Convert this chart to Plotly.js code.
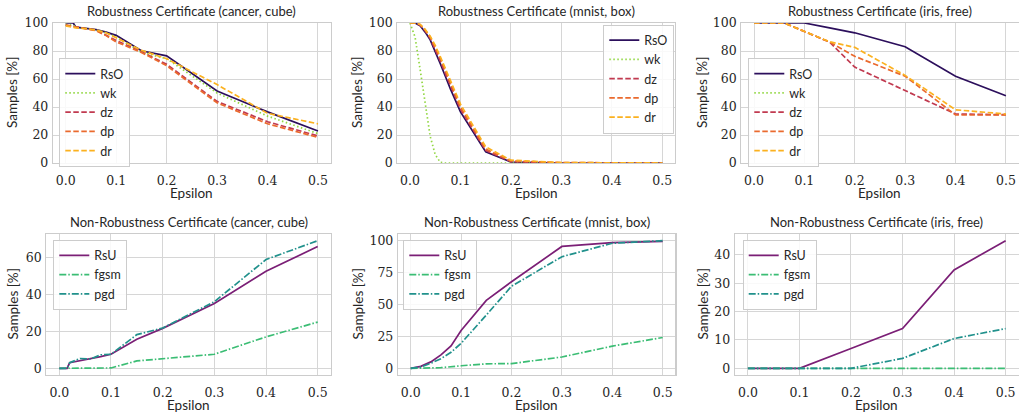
<!DOCTYPE html>
<html>
<head>
<meta charset="utf-8">
<script src="https://cdn.plot.ly/plotly-3.0.1.min.js"></script>
<style>html,body{margin:0;padding:0;background:#fff}#chart{width:1019px;height:415px}</style>
</head>
<body>
<div id="chart"></div>
<script>
// ---------------- data ----------------
const cancerX = [0, 0.015, 0.02, 0.04, 0.06, 0.08, 0.1, 0.15, 0.2, 0.3, 0.4, 0.5];
const cancerRsO = [100, 100, 97, 96, 95.3, 93.5, 91.2, 80.2, 76.5, 51.4, 36.5, 22.8];
const cancerWk  = [99, 98.5, 97, 96, 95, 93, 90, 79, 74.5, 50, 33.5, 21];
const cancerDz  = [98.5, 97.5, 97, 96, 95, 91.5, 87.5, 79.5, 70.5, 44, 29.5, 19.3];
const cancerDp  = [98.5, 97.5, 97, 96, 94.5, 91, 86.5, 79, 69.5, 43, 28, 18.3];
const cancerDr  = [98, 97, 96.5, 96, 95, 93, 89.5, 80.5, 74.5, 56, 35.5, 28];

const mnistX = [0, 0.01, 0.02, 0.03, 0.04, 0.05, 0.06, 0.07, 0.08, 0.1, 0.15, 0.2, 0.3, 0.4, 0.5];
const mnistRsO = [100, 100, 98, 93.5, 88, 80, 71, 62, 53, 36.5, 8, 0.7, 0, 0, 0];
const mnistWk  = [100, 90, 67, 42, 19, 6, 0.5, 0, 0, 0, 0, 0, 0, 0, 0];
const mnistDz  = [100, 100, 98.5, 94.5, 89, 81.5, 73, 64, 55.5, 38.5, 9, 1, 0, 0, 0];
const mnistDp  = [100, 100, 99, 95, 90, 83, 75, 66, 57, 40, 10, 1.5, 0.3, 0, 0];
const mnistDr  = [100, 100, 99, 95.5, 90.5, 84, 76, 67.5, 59, 42, 11.5, 2, 0.3, 0, 0];

const irisX = [0, 0.02, 0.04, 0.06, 0.08, 0.1, 0.15, 0.2, 0.3, 0.4, 0.5];
const irisRsO = [100, 100, 100, 100, 100, 100, 96.5, 93, 83, 62, 48];
const irisWk  = [null, null, null, null, null, null, null, null, null, null, null];
const irisDz  = [100, 100, 100, 100, 97, 94, 86.4, 68.5, 51.7, 35, 34.5];
const irisDp  = [100, 100, 100, 100, 97, 94, 86.4, 76.2, 62, 34.3, 34.3];
const irisDr  = [100, 100, 100, 100, 97, 94, 86.6, 82.6, 62.6, 38, 35];

const cancerX2 = [0, 0.015, 0.02, 0.04, 0.06, 0.08, 0.1, 0.15, 0.2, 0.3, 0.4, 0.5];
const cancerRsU  = [0, 0, 3, 4, 5.2, 6.3, 7.6, 15.7, 21.6, 35, 52.5, 65.8];
const cancerFgsm = [0, 0, 0, 0, 0, 0, 0.2, 4, 5.3, 7.6, 17, 25];
const cancerPgd  = [0, 0, 3, 5.3, 5, 7.3, 7.6, 18.2, 21.8, 36, 58.8, 69];

const mnistX2 = [0, 0.01, 0.02, 0.04, 0.06, 0.08, 0.1, 0.15, 0.2, 0.3, 0.4, 0.5];
const mnistRsU  = [0.5, 1, 2, 5.5, 11, 18, 30, 53.5, 68, 95.5, 98.5, 99.5];
const mnistFgsm = [0.5, 0.7, 0.8, 0.8, 1, 1.5, 2.5, 4, 4.2, 9.3, 17.8, 24.5];
const mnistPgd  = [0.5, 1, 1.5, 4.5, 8, 13, 20, 42, 64.5, 87.5, 98, 100];

const irisX2 = [0, 0.1, 0.2, 0.3, 0.4, 0.5];
const irisRsU  = [0, 0, 7, 14, 34.7, 45];
const irisFgsm = [0, 0, 0, 0, 0, 0];
const irisPgd  = [0, 0, 0, 3.5, 10.5, 14];

const topTitles = ['Robustness Certificate (cancer, cube)', 'Robustness Certificate (mnist, box)', 'Robustness Certificate (iris, free)'];
const botTitles = ['Non-Robustness Certificate (cancer, cube)', 'Non-Robustness Certificate (mnist, box)', 'Non-Robustness Certificate (iris, free)'];
const topNames = ['RsO', 'wk', 'dz', 'dp', 'dr'];
const botNames = ['RsU', 'fgsm', 'pgd'];
const xTicks = [0, 0.1, 0.2, 0.3, 0.4, 0.5];

// ---------------- styles ----------------
const W = 1019, H = 415;
const topStyles = [
  {color: '#2c0f5c', dash: 'solid'},
  {color: '#92d742', dash: '1.5px,2.5px'},
  {color: '#c13a50', dash: '5.5px,2.5px'},
  {color: '#ea6a2e', dash: '5.5px,2.5px'},
  {color: '#fbb11f', dash: '5.5px,2.5px'}
];
const botStyles = [
  {color: '#7b1f76', dash: 'solid'},
  {color: '#3bbd74', dash: '7px,2px,1.5px,2px'},
  {color: '#21918c', dash: '7px,2px,1.5px,2px'}
];

const topSeries = [
  {x: cancerX, ys: [cancerRsO, cancerWk, cancerDz, cancerDp, cancerDr]},
  {x: mnistX, ys: [mnistRsO, mnistWk, mnistDz, mnistDp, mnistDr]},
  {x: irisX, ys: [irisRsO, irisWk, irisDz, irisDp, irisDr]}
];
const botSeries = [
  {x: cancerX2, ys: [cancerRsU, cancerFgsm, cancerPgd]},
  {x: mnistX2, ys: [mnistRsU, mnistFgsm, mnistPgd]},
  {x: irisX2, ys: [irisRsU, irisFgsm, irisPgd]}
];

// frame pixel boxes [left, right]
const topXpx = [[53.1, 330.6], [397.4, 674.9], [741.4, 1018.5]];
const botXpx = [[46.4, 330.6], [398.1, 675.3], [735.0, 1018.5]];
const topYpx = [23, 163];
const botYpx = [234.3, 374.7];
const topLegPx = [[59.3, 58], [603.3, 24.5], [748.3, 58]];
const botLegPx = [[53.3, 239.7], [403.3, 239.7], [742.7, 239.7]];
const ylabX = [12, 357, 702];
const botYTicks = [[0, 20, 40, 60], [0, 25, 50, 75, 100], [0, 10, 20, 30, 40]];

const serif = 'DejaVu Serif';
const sans = 'Lato';
const txt = '#262626';

const traces = [];
const layout = {
  width: W, height: H,
  margin: {l: 0, r: 0, t: 0, b: 0},
  paper_bgcolor: '#ffffff', plot_bgcolor: '#ffffff',
  font: {family: sans, size: 12, color: txt},
  showlegend: true,
  annotations: []
};

function axisBase(dom) {
  return {
    domain: dom,
    showline: true, linecolor: '#cccccc', linewidth: 1.3, mirror: true,
    showgrid: true, gridcolor: '#d6d6d6', gridwidth: 1,
    zeroline: false,
    tickfont: {family: serif, size: 12.5, color: txt}
  };
}

function padRange(arrs) {
  let mn = Infinity, mx = -Infinity;
  arrs.forEach(a => a.forEach(v => { if (v !== null) { mn = Math.min(mn, v); mx = Math.max(mx, v); } }));
  const p = 0.05 * (mx - mn);
  return [mn - p, mx + p];
}

function addPanel(idx, xpx, ypx, series, names, styles, title, legPx, yRange, yTicks, legendId) {
  const n = idx + 1;
  const xa = 'xaxis' + (n === 1 ? '' : n), ya = 'yaxis' + (n === 1 ? '' : n);
  const xd = [xpx[0] / W, xpx[1] / W];
  const yd = [1 - ypx[1] / H, 1 - ypx[0] / H];
  layout[xa] = Object.assign(axisBase(xd), {
    anchor: 'y' + (n === 1 ? '' : n),
    range: [-0.025, 0.525], tickvals: xTicks, tickformat: '.1f',
    ticks: 'outside', ticklen: 6, tickcolor: 'rgba(0,0,0,0)'
  });
  layout[ya] = Object.assign(axisBase(yd), {
    anchor: 'x' + (n === 1 ? '' : n),
    range: yRange, tickvals: yTicks,
    ticks: 'outside', ticklen: 1, tickcolor: 'rgba(0,0,0,0)'
  });
  series.ys.forEach((y, i) => {
    traces.push({
      type: 'scatter', mode: 'lines', x: series.x, y: y, name: names[i],
      xaxis: 'x' + (n === 1 ? '' : n), yaxis: 'y' + (n === 1 ? '' : n),
      line: {color: styles[i].color, dash: styles[i].dash, width: 1.7},
      legend: legendId, hoverinfo: 'skip'
    });
  });
  layout[legendId] = {
    x: legPx[0] / W, y: 1 - legPx[1] / H, xanchor: 'left', yanchor: 'top',
    bgcolor: 'rgba(255,255,255,0.85)', bordercolor: '#cccccc', borderwidth: 1,
    font: {family: sans, size: 12.5, color: txt}, tracegroupgap: 0
  };
  const cx = (xd[0] + xd[1]) / 2;
  layout.annotations.push({
    text: title, xref: 'paper', yref: 'paper', x: cx, y: 1 - (ypx[0] - 12) / H,
    xanchor: 'center', yanchor: 'middle', showarrow: false,
    font: {family: sans, size: 13, color: txt}
  });
  layout.annotations.push({
    text: 'Epsilon', xref: 'paper', yref: 'paper', x: cx, y: 1 - (ypx[1] + 30) / H,
    xanchor: 'center', yanchor: 'middle', showarrow: false,
    font: {family: sans, size: 13.5, color: txt}
  });
  layout.annotations.push({
    text: 'Samples [%]', xref: 'paper', yref: 'paper', x: ylabX[idx % 3] / W, y: 1 - ((ypx[0] + ypx[1]) / 2) / H,
    xanchor: 'center', yanchor: 'middle', showarrow: false, textangle: -90,
    font: {family: sans, size: 13.5, color: txt}
  });
}

for (let i = 0; i < 3; i++) {
  addPanel(i, topXpx[i], topYpx, topSeries[i], topNames, topStyles, topTitles[i], topLegPx[i],
    [0, 100], [0, 20, 40, 60, 80, 100], i === 0 ? 'legend' : 'legend' + (i + 1));
}
for (let i = 0; i < 3; i++) {
  addPanel(i + 3, botXpx[i], botYpx, botSeries[i], botNames, botStyles, botTitles[i], botLegPx[i],
    padRange(botSeries[i].ys), botYTicks[i], 'legend' + (i + 4));
}

Plotly.newPlot('chart', traces, layout, {displayModeBar: false, staticPlot: true});
</script>
</body>
</html>
